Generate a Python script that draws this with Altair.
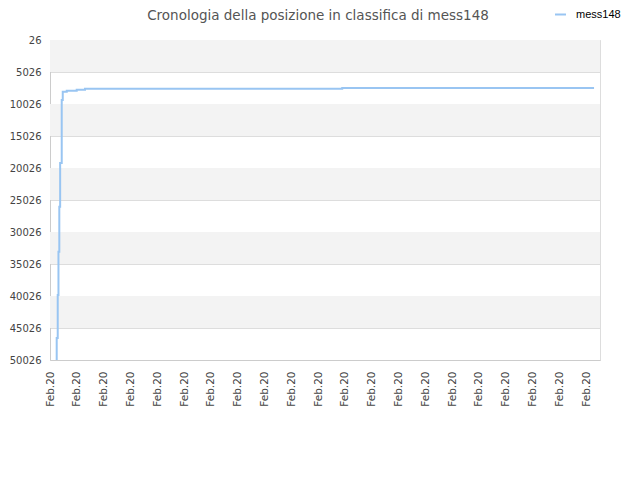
import altair as alt
import pandas as pd

# Data
times = [
    "2020-02-01T05:50", "2020-02-01T06:00", "2020-02-01T06:55", "2020-02-01T07:35",
    "2020-02-01T08:20", "2020-02-01T09:05", "2020-02-01T10:30", "2020-02-01T11:25",
    "2020-02-01T15:00", "2020-02-01T23:55", "2020-02-02T07:20", "2020-02-11T21:40",
    "2020-02-21T07:10",
]
ranks = [50026, 46589, 39870, 33104, 26073, 19245, 9401, 8104, 7948, 7792, 7660, 7510, 7510]
series_name = "mess148"
title_text = "Cronologia della posizione in classifica di mess148"

band_starts = [26, 10026, 20026, 30026, 40026]
band_ends = [5026, 15026, 25026, 35026, 45026]
y_ticks = [26, 5026, 10026, 15026, 20026, 25026, 30026, 35026, 40026, 45026, 50026]
x_ticks = [f"2020-02-{d:02d}T00:00" for d in range(1, 22)]
x_domain = ["2020-02-01T00:00", "2020-02-21T12:30"]

df = pd.DataFrame({"t": times, "rank": ranks, "series": series_name})
bands = pd.DataFrame({"y0": band_starts, "y1": band_ends})
titles = pd.DataFrame({"label": [title_text]})

yscale = alt.Scale(domain=[26, 50026], reverse=True, nice=False, zero=False)
xscale = alt.Scale(domain=x_domain, nice=False)

y_axis = alt.Axis(
    values=y_ticks,
    format="d",
    labelFontSize=10,
    labelColor="#444444",
    labelFont="DejaVu Sans",
    labelPadding=9,
    ticks=False,
    grid=True,
    gridColor="#dddddd",
    domainColor="#cccccc",
)

band_layer = alt.Chart(bands).mark_rect(fill="#f3f3f3").encode(
    y=alt.Y("y0:Q", scale=yscale, axis=y_axis, title=None),
    y2="y1:Q",
    x=alt.value(0),
    x2=alt.value(550),
)

line_layer = alt.Chart(df).mark_line(interpolate="step-after", strokeWidth=2, clip=True).encode(
    x=alt.X(
        "t:T",
        scale=xscale,
        title=None,
        axis=alt.Axis(
            values=x_ticks,
            format="%b.%y",
            labelAngle=-90,
            labelAlign="right",
            labelBaseline="middle",
            labelFontSize=10.5,
            labelColor="#444444",
            labelFont="DejaVu Sans",
            labelPadding=11,
            ticks=False,
            grid=False,
            domainColor="#cccccc",
            labelOverlap=False,
        ),
    ),
    y=alt.Y("rank:Q", scale=yscale, title=None, axis=y_axis),
    color=alt.Color(
        "series:N",
        scale=alt.Scale(domain=[series_name], range=["#99c5f2"]),
        legend=alt.Legend(
            title=None,
            orient="none",
            legendX=504,
            legendY=-32,
            padding=0,
            offset=0,
            labelOffset=9,
            symbolType="stroke",
            symbolSize=120,
            symbolStrokeWidth=2,
            labelFontSize=11,
            labelFont="Liberation Sans",
            labelColor="#000000",
        ),
    ),
)

title_layer = alt.Chart(titles).mark_text(
    font="DejaVu Sans",
    fontSize=13.5,
    color="#555555",
    align="center",
    baseline="alphabetic",
).encode(
    text="label:N",
    x=alt.value(268),
    y=alt.value(-20),
)

chart = (
    alt.layer(band_layer, line_layer, title_layer)
    .properties(
        width=550,
        height=320,
        padding={"left": 42, "top": 32, "right": 32, "bottom": 110},
        autosize=alt.AutoSizeParams(type="none"),
    )
    .configure_view(stroke="#dddddd")
)

chart.save("out.html", embed_options={"renderer": "svg", "actions": False})
